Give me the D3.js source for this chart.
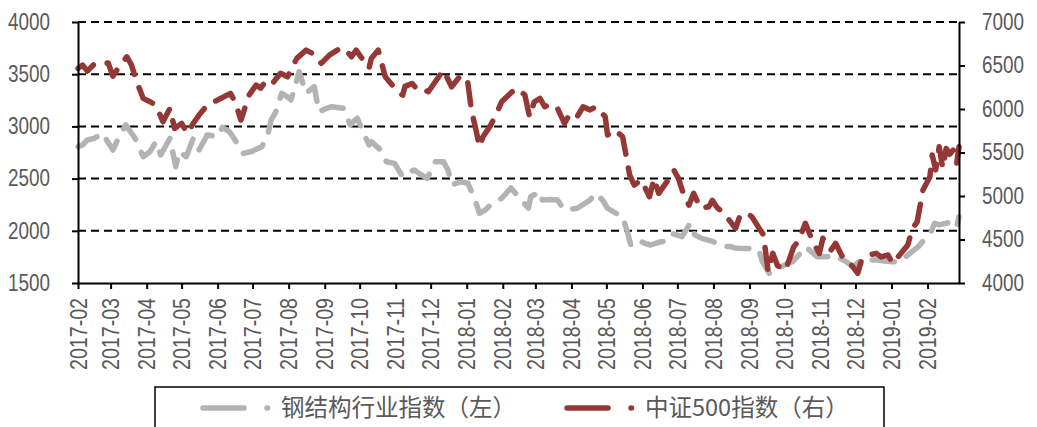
<!DOCTYPE html>
<html>
<head>
<meta charset="utf-8">
<script src="https://cdn.jsdelivr.net/npm/d3@7"></script>
<style>
  body { margin: 0; background: #fff; }
  .tick text { font-family: "Liberation Sans Narrow", "Arial Narrow", "Liberation Sans", Arial, sans-serif; font-size: 23px; fill: #595959; }
  .legend text { font-family: "Noto Sans CJK SC", sans-serif; font-size: 23.5px; fill: #595959; }
</style>
</head>
<body>
<div id="chart-area"></div>
<script>
// 钢结构行业指数 (left axis)
const steelDates = [
  '2017-02-01','2017-02-05','2017-02-09','2017-02-15','2017-02-22','2017-03-03','2017-03-07','2017-03-14',
  '2017-03-22','2017-03-29','2017-04-04','2017-04-09','2017-04-13','2017-04-21','2017-04-26','2017-04-29',
  '2017-05-05','2017-05-11','2017-05-16','2017-05-23','2017-06-01','2017-06-05','2017-06-11','2017-06-15',
  '2017-06-23','2017-06-30','2017-07-09','2017-07-14','2017-07-17','2017-07-21','2017-07-26','2017-07-30',
  '2017-08-03','2017-08-06','2017-08-10','2017-08-13','2017-08-16','2017-08-23','2017-08-27','2017-09-02',
  '2017-09-07','2017-09-17','2017-09-23','2017-09-26','2017-09-29','2017-10-09','2017-10-11','2017-10-19',
  '2017-10-24','2017-10-31','2017-11-07','2017-11-12','2017-11-17','2017-11-21','2017-11-28','2017-12-05',
  '2017-12-12','2017-12-16','2017-12-19','2017-12-27','2018-01-02','2018-01-07','2018-01-12','2018-01-17',
  '2018-01-23','2018-01-31','2018-02-08','2018-02-15','2018-02-23','2018-02-25','2018-03-05','2018-03-07',
  '2018-03-14','2018-03-20','2018-03-24','2018-03-27','2018-04-06','2018-04-17','2018-04-22','2018-04-28',
  '2018-05-02','2018-05-09','2018-05-15','2018-05-19','2018-05-22','2018-05-28','2018-06-03','2018-06-08',
  '2018-06-15','2018-06-20','2018-06-26','2018-07-05','2018-07-12','2018-07-16','2018-07-22','2018-08-01',
  '2018-08-09','2018-08-15','2018-08-21','2018-08-27','2018-09-02','2018-09-09','2018-09-12','2018-09-18',
  '2018-09-26','2018-10-04','2018-10-08','2018-10-15','2018-10-19','2018-10-29','2018-11-07','2018-11-13',
  '2018-11-23','2018-11-29','2018-12-04','2018-12-12','2018-12-20','2018-12-26','2019-01-02','2019-01-08',
  '2019-01-15','2019-01-24','2019-02-04','2019-02-07','2019-02-11','2019-02-16','2019-02-23','2019-02-26',
  '2019-02-28'
];
const steelValues = [
  2806, 2822, 2870, 2886, 2934, 2774, 2870, 3014,
  2886, 2710, 2760, 2854, 2726, 2886, 2614, 2758,
  2710, 2886, 2774, 2918, 2902, 2990, 2950, 2886,
  2742, 2760, 2806, 2918, 3062, 3140, 3317, 3290,
  3253, 3365, 3524, 3420, 3317, 3381, 3141, 3170,
  3189, 3173, 3014, 3050, 3078, 2822, 2854, 2774,
  2662, 2646, 2518, 2560, 2582, 2550, 2503, 2662,
  2662, 2580, 2439, 2470, 2455, 2330, 2168, 2200,
  2264, 2311, 2410, 2320, 2216, 2327, 2375, 2295,
  2300, 2295, 2230, 2199, 2216, 2295, 2359, 2290,
  2216, 2170, 2135, 1991, 1864, 1912, 1880, 1864,
  1890, 1900, 1976, 1944, 2072, 1960, 1928, 1896,
  1848, 1850, 1832, 1830, 1832, 1816, 1704, 1593,
  1640, 1689, 1704, 1790, 1848, 1752, 1752, 1768,
  1704, 1656, 1704, 1720, 1720, 1710, 1704, 1704,
  1768, 1848, 1991, 2072, 2056, 2070, 2088, 2040,
  2135
];

// 中证500指数 (right axis)
const csiDates = [
  '2017-02-01','2017-02-05','2017-02-09','2017-02-14','2017-02-18','2017-02-27','2017-03-03','2017-03-09',
  '2017-03-15','2017-03-19','2017-03-23','2017-03-29','2017-04-03','2017-04-09','2017-04-15','2017-04-21',
  '2017-04-25','2017-05-01','2017-05-06','2017-05-11','2017-05-16','2017-05-23','2017-06-01','2017-06-12',
  '2017-06-16','2017-06-21','2017-06-28','2017-07-04','2017-07-08','2017-07-13','2017-07-18','2017-07-25',
  '2017-07-31','2017-08-08','2017-08-16','2017-08-23','2017-08-29','2017-09-05','2017-09-15','2017-09-19',
  '2017-09-24','2017-09-28','2017-10-09','2017-10-11','2017-10-17','2017-10-23','2017-10-29','2017-11-02',
  '2017-11-07','2017-11-09','2017-11-15','2017-11-20','2017-11-24','2017-11-29','2017-12-05','2017-12-12',
  '2017-12-19','2017-12-27','2018-01-02','2018-01-05','2018-01-09','2018-01-12','2018-01-15','2018-01-21',
  '2018-01-26','2018-01-31','2018-02-09','2018-02-13','2018-02-20','2018-02-24','2018-02-28','2018-03-05',
  '2018-03-09','2018-03-15','2018-03-20','2018-03-26','2018-03-30','2018-04-05','2018-04-11','2018-04-17',
  '2018-04-22','2018-04-30','2018-05-02','2018-05-08','2018-05-15','2018-05-21','2018-05-25','2018-05-31',
  '2018-06-07','2018-06-11','2018-06-15','2018-06-25','2018-06-28','2018-07-02','2018-07-07','2018-07-11',
  '2018-07-15','2018-07-21','2018-07-28','2018-07-31','2018-08-04','2018-08-10','2018-08-20','2018-08-24',
  '2018-08-30','2018-09-03','2018-09-13','2018-09-17','2018-09-21','2018-09-25','2018-10-02','2018-10-09',
  '2018-10-13','2018-10-19','2018-10-26','2018-10-31','2018-11-03','2018-11-06','2018-11-10','2018-11-14',
  '2018-11-19','2018-11-24','2018-11-28','2018-12-03','2018-12-06','2018-12-12','2018-12-19','2018-12-23',
  '2018-12-29','2019-01-02','2019-01-08','2019-01-15','2019-01-19','2019-01-23','2019-01-28','2019-02-03',
  '2019-02-05','2019-02-08','2019-02-11','2019-02-14','2019-02-17','2019-02-20','2019-02-23','2019-02-26',
  '2019-02-28'
];
const csiValues = [
  6467, 6505, 6436, 6505, 6524, 6528, 6378, 6500,
  6600, 6505, 6332, 6122, 6090, 6045, 5853, 6007,
  5777, 5835, 5720, 5835, 5930, 6045, 6103, 6180,
  6080, 5873, 6160, 6275, 6240, 6332, 6294, 6410,
  6370, 6582, 6677, 6628, 6524, 6620, 6704, 6680,
  6600, 6677, 6467, 6580, 6677, 6370, 6275, 6198,
  6160, 6260, 6294, 6218, 6230, 6198, 6313, 6447,
  6255, 6390, 6300, 5988, 5758, 5566, 5681, 5800,
  5930, 6083, 6198, 6237, 6160, 5911, 6080, 6122,
  6026, 6060, 6007, 5835, 5930, 5892, 6026, 5990,
  6026, 5911, 5700, 5760, 5681, 5241, 5126, 5183,
  4992, 5200, 5031, 5221, 5298, 5200, 4992, 4896,
  5030, 4858, 4877, 4950, 4870, 4801, 4628, 4781,
  4800, 4762, 4552, 4130, 4341, 4200, 4149, 4417,
  4480, 4686, 4456, 4341, 4514, 4450, 4379, 4456,
  4322, 4226, 4200, 4111, 4250, 4322, 4341, 4300,
  4322, 4226, 4322, 4437, 4628, 4700, 5068, 5221,
  5471, 5300, 5566, 5320, 5547, 5480, 5528, 5375,
  5566
];

const leftTicks = [1500, 2000, 2500, 3000, 3500, 4000];
const rightTicks = [4000, 4500, 5000, 5500, 6000, 6500, 7000];
const gridValues = [2000, 2500, 3000, 3500, 4000];
const seriesNames = ['钢结构行业指数（左）', '中证500指数（右）'];
const seriesColors = ['#b3b3b3', '#953735'];

const parseDate = d3.timeParse('%Y-%m-%d');
const steel = steelDates.map((d, i) => ({ date: parseDate(d), value: steelValues[i] }));
const csi = csiDates.map((d, i) => ({ date: parseDate(d), value: csiValues[i] }));

const width = 1037, height = 427;
const plotLeft = 78, plotRight = 959, plotTop = 22, plotBottom = 283;

const svg = d3.select('#chart-area').append('svg')
  .attr('width', width)
  .attr('height', height);

const x = d3.scaleTime()
  .domain([new Date(2017, 1, 1), new Date(2019, 1, 28)])
  .range([plotLeft, plotRight]);
const yLeft = d3.scaleLinear().domain([1500, 4000]).range([plotBottom, plotTop]);
const yRight = d3.scaleLinear().domain([4000, 7000]).range([plotBottom, plotTop]);

// dashed gridlines
svg.append('g').selectAll('line')
  .data(gridValues)
  .enter().append('line')
  .attr('x1', plotLeft)
  .attr('x2', plotRight)
  .attr('y1', d => yLeft(d))
  .attr('y2', d => yLeft(d))
  .attr('stroke', '#000')
  .attr('stroke-width', 2)
  .attr('stroke-dasharray', '8,5');

// lines
const lineLeft = d3.line().x(d => x(d.date)).y(d => yLeft(d.value));
const lineRight = d3.line().x(d => x(d.date)).y(d => yRight(d.value));

svg.append('path')
  .datum(steel)
  .attr('d', lineLeft)
  .attr('fill', 'none')
  .attr('stroke', seriesColors[0])
  .attr('stroke-width', 5.5)
  .attr('stroke-linecap', 'round')
  .attr('stroke-linejoin', 'round')
  .attr('stroke-dasharray', '22,14');

svg.append('path')
  .datum(csi)
  .attr('d', lineRight)
  .attr('fill', 'none')
  .attr('stroke', seriesColors[1])
  .attr('stroke-width', 5.5)
  .attr('stroke-linecap', 'round')
  .attr('stroke-linejoin', 'round')
  .attr('stroke-dasharray', '22,14');

// axes
const monthTicks = d3.timeMonth.range(new Date(2017, 1, 1), new Date(2019, 1, 2));

const xAxis = svg.append('g')
  .attr('transform', `translate(0,${plotBottom})`)
  .call(d3.axisBottom(x).tickValues(monthTicks).tickFormat(d3.timeFormat('%Y-%m')).tickSize(6).tickSizeOuter(0));
xAxis.selectAll('.tick text')
  .attr('transform', 'rotate(-90)')
  .attr('text-anchor', 'end')
  .attr('x', -15)
  .attr('y', 0)
  .attr('dy', '0.35em')
  .attr('textLength', 72)
  .attr('lengthAdjust', 'spacingAndGlyphs');

const lAxis = svg.append('g')
  .attr('transform', `translate(${plotLeft},0)`)
  .call(d3.axisLeft(yLeft).tickValues(leftTicks).tickFormat(d3.format('d')).tickSize(6).tickSizeOuter(0).tickPadding(22));

const rAxis = svg.append('g')
  .attr('transform', `translate(${plotRight},0)`)
  .call(d3.axisRight(yRight).tickValues(rightTicks).tickFormat(d3.format('d')).tickSize(6).tickSizeOuter(0).tickPadding(17));

[lAxis, rAxis].forEach(g => {
  g.selectAll('.tick text')
    .attr('textLength', 42)
    .attr('lengthAdjust', 'spacingAndGlyphs');
});

[xAxis, lAxis, rAxis].forEach(g => {
  g.select('.domain').attr('stroke', '#000').attr('stroke-width', 2);
  g.selectAll('.tick line').attr('stroke', '#000').attr('stroke-width', 2);
});

// legend
const legend = svg.append('g').attr('class', 'legend');
legend.append('rect')
  .attr('x', 155)
  .attr('y', 387)
  .attr('width', 729)
  .attr('height', 60)
  .attr('fill', 'none')
  .attr('stroke', '#000')
  .attr('stroke-width', 1.5);

const legendX = [203, 567];
seriesNames.forEach((name, i) => {
  legend.append('line')
    .attr('x1', legendX[i])
    .attr('x2', legendX[i] + 72)
    .attr('y1', 408)
    .attr('y2', 408)
    .attr('stroke', seriesColors[i])
    .attr('stroke-width', 5.5)
    .attr('stroke-linecap', 'round')
    .attr('stroke-dasharray', '41,23,0.5,100');
  legend.append('text')
    .attr('x', legendX[i] + 78)
    .attr('y', 408)
    .attr('dy', '0.35em')
    .text(name);
});
</script>
</body>
</html>
